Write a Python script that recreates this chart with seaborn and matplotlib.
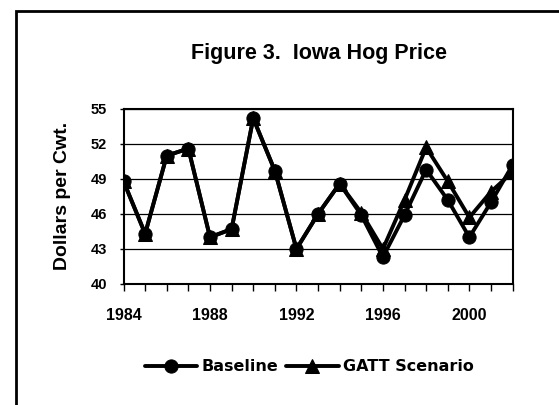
import pandas as pd
import seaborn as sns
import matplotlib.pyplot as plt
from matplotlib.patches import Rectangle

years = list(range(1984, 2003))
baseline = [48.8, 44.3, 51.0, 51.6, 44.0, 44.7, 54.2, 49.7, 43.0, 46.0,
            48.6, 45.9, 42.3, 45.9, 49.8, 47.2, 44.0, 47.0, 50.2]
gatt = [48.8, 44.3, 51.0, 51.6, 44.0, 44.7, 54.2, 49.7, 43.0, 46.0,
        48.6, 46.1, 43.0, 47.2, 51.7, 48.8, 45.7, 47.9, 49.6]
series_names = ["Baseline", "GATT Scenario"]
x_ticks = [1984, 1988, 1992, 1996, 2000]
y_ticks = [40, 43, 46, 49, 52, 55]

df = pd.DataFrame({
    "year": years * 2,
    "price": baseline + gatt,
    "series": [series_names[0]] * len(years) + [series_names[1]] * len(years),
})

sns.set_style("white")
plt.rcParams["font.family"] = ["Liberation Sans", "DejaVu Sans"]
plt.rcParams["font.weight"] = "bold"
# seaborn greys the text, the scan is plain black
for k in ["text.color", "axes.labelcolor", "xtick.color", "ytick.color"]:
    plt.rcParams[k] = "black"

fig = plt.figure(figsize=(5.59, 4.05), dpi=100)
ax = fig.add_axes([0.221, 0.299, 0.696, 0.432])

# GATT first so the baseline circles sit on top where they overlap
sns.lineplot(data=df[df.series == series_names[1]], x="year", y="price",
             color="black", lw=2.8, marker="^", markersize=9.5,
             markeredgecolor="black", ax=ax, label=series_names[1], legend=False)
sns.lineplot(data=df[df.series == series_names[0]], x="year", y="price",
             color="black", lw=2.8, marker="o", markersize=9.5,
             markeredgecolor="black", ax=ax, label=series_names[0], legend=False)

ax.set_xlim(1984, 2002)
ax.set_ylim(40, 55)
ax.set_yticks(y_ticks)
ax.set_xticks(years, minor=True)
ax.set_xticks(x_ticks)
ax.set_xticklabels([str(t) for t in x_ticks], fontsize=11.5, fontweight="bold")
ax.set_yticklabels([str(t) for t in y_ticks], fontsize=10.5, fontweight="bold")
ax.yaxis.grid(True, color="black", lw=0.9)
ax.set_axisbelow(True)
for s in ax.spines.values():
    s.set_color("black")
    s.set_linewidth(1.5)
ax.tick_params(axis="x", which="both", direction="out", length=5,
               width=1, color="black", labelcolor="black", bottom=True, pad=12)
ax.tick_params(axis="y", direction="out", length=3, width=1,
               color="black", labelcolor="black", left=True, pad=9)
ax.set_xlabel("")
ax.set_ylabel("Dollars per Cwt.", fontsize=14, fontweight="bold", va="center",
              color="black")
ax.yaxis.set_label_coords(-0.158, 0.5)

fig.text(0.57, 0.868, "Figure 3.  Iowa Hog Price", ha="center", va="center",
         fontsize=15.5, fontweight="bold", color="black")

h, l = ax.get_legend_handles_labels()
order = [l.index(n) for n in series_names]
fig.legend([h[i] for i in order], [l[i] for i in order], loc="center",
           bbox_to_anchor=(0.553, 0.094), ncol=2, frameon=False,
           prop={"family": "DejaVu Sans", "weight": "bold", "size": 11.5},
           handlelength=3.3, columnspacing=0.5, handletextpad=0.25,
           labelcolor="black")

# outer frame, cut off at right and bottom like the scan
fig.patches.append(Rectangle((16 / 559, -0.1), 1.2, (405 - 11) / 405 + 0.1,
                             transform=fig.transFigure, fill=False,
                             edgecolor="black", lw=2))

fig.savefig("out.png", dpi=100)
